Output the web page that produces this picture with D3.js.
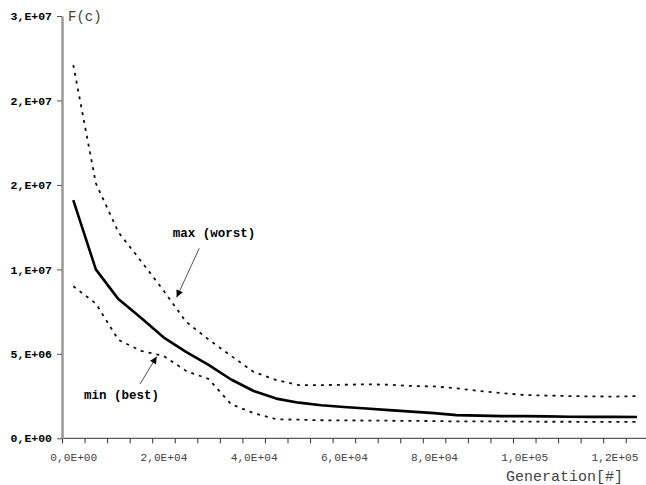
<!DOCTYPE html>
<html>
<head>
<meta charset="utf-8">
<script src="https://cdn.jsdelivr.net/npm/d3@7"></script>
<style>
  body { margin: 0; background: #fff; }
  svg { display: block; }
</style>
</head>
<body>
<div id="chart"></div>
<script>
// generations (mid points of each 5000 block)
const generations = [2500, 7500, 12500, 17500, 22500, 27500, 32500, 37500, 42500, 47500,
  52500, 57500, 62500, 67500, 72500, 77500, 82500, 87500, 92500, 97500,
  102500, 107500, 112500, 117500, 122500, 127500];

const maxWorst = [22.1e6, 15.1e6, 12.2e6, 10.5e6, 8.75e6, 6.9e6, 5.85e6, 4.88e6, 3.93e6, 3.45e6,
  3.15e6, 3.15e6, 3.17e6, 3.2e6, 3.17e6, 3.1e6, 3.07e6, 2.96e6, 2.8e6, 2.68e6,
  2.56e6, 2.53e6, 2.5e6, 2.48e6, 2.47e6, 2.5e6];

const mean = [14.1e6, 10.0e6, 8.24e6, 7.14e6, 5.98e6, 5.12e6, 4.35e6, 3.48e6, 2.8e6, 2.35e6,
  2.11e6, 1.96e6, 1.85e6, 1.76e6, 1.67e6, 1.58e6, 1.49e6, 1.37e6, 1.34e6, 1.31e6,
  1.31e6, 1.3e6, 1.28e6, 1.27e6, 1.27e6, 1.26e6];

const minBest = [9.0e6, 7.98e6, 5.83e6, 5.18e6, 4.88e6, 3.99e6, 3.51e6, 2.02e6, 1.49e6, 1.13e6,
  1.1e6, 1.07e6, 1.06e6, 1.05e6, 1.04e6, 1.03e6, 1.02e6, 1.0e6, 1.0e6, 1.0e6,
  0.99e6, 0.98e6, 0.98e6, 0.97e6, 0.97e6, 0.97e6];

const yTicks = [0, 5e6, 1e7, 1.5e7, 2e7, 2.5e7];
const yTickLabels = ["0,E+00", "5,E+06", "1,E+07", "2,E+07", "2,E+07", "3,E+07"];
const xTicks = d3.range(0, 125001, 5000);
const xTickLabels = {0: "0,0E+00", 20000: "2,0E+04", 40000: "4,0E+04", 60000: "6,0E+04",
  80000: "8,0E+04", 100000: "1,0E+05", 120000: "1,2E+05"};

const annotations = [
  {text: "max (worst)", tx: 33700, ty: 12.15e6, x0: 30440, y0: 11.25e6, x1: 25430, y1: 8.35e6},
  {text: "min (best)", tx: 13200, ty: 2.6e6, x0: 17290, y0: 3.21e6, x1: 20990, y1: 4.83e6}
];

const width = 646, height = 485;
const mono = "'Liberation Mono', 'Courier New', monospace";

const svg = d3.select("#chart").append("svg")
  .attr("width", width)
  .attr("height", height);

const x = d3.scaleLinear().domain([0, 130000]).range([62, 648.3]);
const y = d3.scaleLinear().domain([0, 2.5e7]).range([438.3, 16]);

// X axis
const xAxis = svg.append("g")
  .attr("transform", "translate(0," + y(0) + ")")
  .call(d3.axisBottom(x).tickValues(xTicks).tickSize(5).tickSizeOuter(0)
    .tickFormat(d => xTickLabels[d] || ""));
xAxis.select(".domain").attr("d", "M" + x(0) + ",0H" + width).attr("stroke", "#333");
xAxis.selectAll(".tick line").attr("stroke", "#333");
xAxis.selectAll(".tick text")
  .attr("x", x(2500) - x(0))
  .attr("y", 15)
  .attr("fill", "#444")
  .style("font-family", mono)
  .style("font-size", "11.2px");

// Y axis
const yAxis = svg.append("g")
  .attr("transform", "translate(" + x(0) + ",0)")
  .call(d3.axisLeft(y).tickValues(yTicks).tickSize(5).tickSizeOuter(0)
    .tickFormat((d, i) => yTickLabels[i]));
yAxis.select(".domain").attr("stroke", "#999").attr("stroke-width", 2.5);
yAxis.selectAll(".tick line").attr("stroke", "#555");
yAxis.selectAll(".tick text")
  .attr("x", -10)
  .attr("fill", "#000")
  .style("font-family", mono)
  .style("font-weight", "bold")
  .style("font-size", "11.5px");

// axis titles
svg.append("text")
  .attr("x", 68).attr("y", 21)
  .attr("fill", "#444")
  .style("font-family", mono)
  .style("font-size", "14px")
  .text("F(c)");

svg.append("text")
  .attr("x", 623).attr("y", 481)
  .attr("text-anchor", "end")
  .attr("fill", "#444")
  .style("font-family", mono)
  .style("font-size", "15px")
  .text("Generation[#]");

// lines
const line = d3.line()
  .x((d, i) => x(generations[i]))
  .y(d => y(d));

svg.append("path")
  .datum(maxWorst)
  .attr("d", line)
  .attr("fill", "none")
  .attr("stroke", "#111")
  .attr("stroke-width", 1.8)
  .attr("stroke-dasharray", "3,5");

svg.append("path")
  .datum(minBest)
  .attr("d", line)
  .attr("fill", "none")
  .attr("stroke", "#111")
  .attr("stroke-width", 1.8)
  .attr("stroke-dasharray", "3,5");

svg.append("path")
  .datum(mean)
  .attr("d", line)
  .attr("fill", "none")
  .attr("stroke", "#000")
  .attr("stroke-width", 2.6)
  .attr("stroke-linejoin", "round");

// annotations
svg.append("defs").append("marker")
  .attr("id", "arrow")
  .attr("viewBox", "0 0 10 10")
  .attr("refX", 10).attr("refY", 5)
  .attr("markerWidth", 9).attr("markerHeight", 7)
  .attr("markerUnits", "userSpaceOnUse")
  .attr("orient", "auto")
  .append("path")
  .attr("d", "M0,0L10,5L0,10z")
  .attr("fill", "#000");

svg.selectAll(".ann-line")
  .data(annotations)
  .enter()
  .append("line")
  .attr("x1", d => x(d.x0)).attr("y1", d => y(d.y0))
  .attr("x2", d => x(d.x1)).attr("y2", d => y(d.y1))
  .attr("stroke", "#555")
  .attr("stroke-width", 1)
  .attr("marker-end", "url(#arrow)");

svg.selectAll(".ann-text")
  .data(annotations)
  .enter()
  .append("text")
  .attr("x", d => x(d.tx))
  .attr("y", d => y(d.ty))
  .attr("dy", "0.35em")
  .attr("text-anchor", "middle")
  .attr("fill", "#000")
  .style("font-family", mono)
  .style("font-weight", "bold")
  .style("font-size", "12.5px")
  .text(d => d.text);
</script>
</body>
</html>
